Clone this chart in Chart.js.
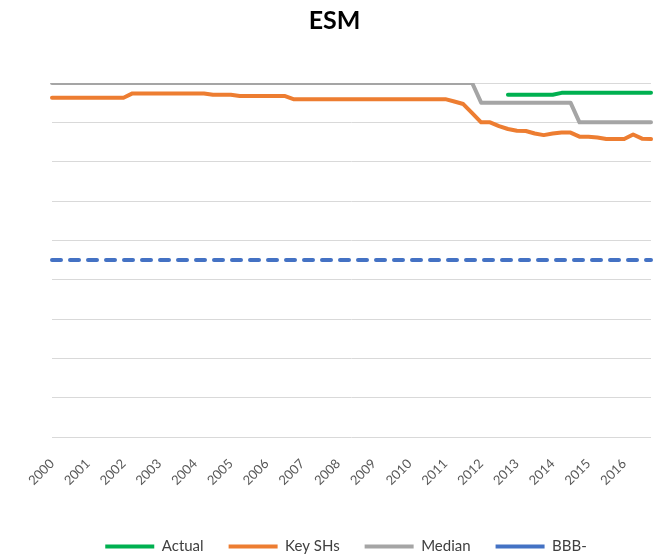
<!DOCTYPE html>
<html>
<head>
<meta charset="utf-8">
<script src="https://cdn.jsdelivr.net/npm/chart.js@4/dist/chart.umd.min.js"></script>
<style>
  html, body { margin: 0; padding: 0; background: #ffffff; }
  #wrap { width: 663px; height: 557px; position: relative; }
</style>
</head>
<body>
<div id="wrap"><canvas id="c" width="663" height="557"></canvas></div>
<script>
// Tick labels (years) and quarterly categories
const years = ["2000","2001","2002","2003","2004","2005","2006","2007","2008","2009","2010","2011","2012","2013","2014","2015","2016"];
const quarters = ["Q1","Q2","Q3","Q4"];
const categories = [];
years.forEach(y => quarters.forEach(q => categories.push(y + q)));

// Series values (rating-notch scale)
const actual = [
  null,null,null,null, null,null,null,null, null,null,null,null, null,null,null,null,
  null,null,null,null, null,null,null,null, null,null,null,null, null,null,null,null,
  null,null,null,null, null,null,null,null, null,null,null,null, null,null,null,null,
  null,null,null,17.4, 17.4,17.4,17.4,17.4, 17.4,17.5,17.5,17.5, 17.5,17.5,17.5,17.5,
  17.5,17.5,17.5,17.5
];
const keySHs = [
  17.25,17.25,17.25,17.25, 17.25,17.25,17.25,17.25, 17.25,17.47,17.47,17.47, 17.47,17.47,17.47,17.47,
  17.47,17.47,17.40,17.40, 17.40,17.34,17.34,17.34, 17.34,17.34,17.34,17.18, 17.18,17.18,17.18,17.18,
  17.18,17.18,17.18,17.18, 17.18,17.18,17.18,17.18, 17.18,17.18,17.18,17.18, 17.18,17.06,16.93,16.47,
  16.00,16.00,15.81,15.66, 15.57,15.56,15.43,15.35, 15.43,15.48,15.48,15.27, 15.27,15.23,15.15,15.15,
  15.15,15.38,15.17,15.15
];
const median = [
  18,18,18,18, 18,18,18,18, 18,18,18,18, 18,18,18,18,
  18,18,18,18, 18,18,18,18, 18,18,18,18, 18,18,18,18,
  18,18,18,18, 18,18,18,18, 18,18,18,18, 18,18,18,18,
  17,17,17,17, 17,17,17,17, 17,17,17,16, 16,16,16,16,
  16,16,16,16
];
const bbbMinus = categories.map(() => 9);

const FONT = "Lato, 'Open Sans', sans-serif";

// Center legend on plot area and nudge it down slightly (Excel-like placement)
const legendPlacement = {
  id: 'legendPlacement',
  afterLayout(chart) {
    const lg = chart.legend;
    if (!lg) return;
    lg.left = chart.chartArea.left;
    lg.right = chart.chartArea.right - 11;
    lg.top += 7;
    lg.bottom += 7;
  }
};

new Chart(document.getElementById('c'), {
  type: 'line',
  data: {
    labels: categories,
    datasets: [
      { label: 'Actual', data: actual, borderColor: '#00B050', backgroundColor: '#00B050',
        borderWidth: 4, pointRadius: 0, borderCapStyle: 'round', borderJoinStyle: 'round', tension: 0, spanGaps: false },
      { label: 'Key SHs', data: keySHs, borderColor: '#ED7D31', backgroundColor: '#ED7D31',
        borderWidth: 4, pointRadius: 0, borderCapStyle: 'round', borderJoinStyle: 'round', tension: 0 },
      { label: 'Median', data: median, borderColor: '#A5A5A5', backgroundColor: '#A5A5A5',
        borderWidth: 4, pointRadius: 0, borderCapStyle: 'round', borderJoinStyle: 'round', tension: 0 },
      { label: 'BBB-', data: bbbMinus, borderColor: '#4472C4', backgroundColor: '#4472C4',
        borderWidth: 4, pointRadius: 0, borderDash: [9, 9], borderCapStyle: 'round', tension: 0 }
    ]
  },
  options: {
    responsive: false,
    animation: false,
    layout: { padding: { left: 18, right: 12, top: 4, bottom: 0 } },
    plugins: {
      title: {
        display: true, text: 'ESM', color: '#000000',
        font: { family: FONT, size: 25, weight: 'bold' },
        padding: { top: 2, bottom: 47 }
      },
      legend: {
        position: 'bottom',
        labels: {
          usePointStyle: true, pointStyle: 'line', pointStyleWidth: 49,
          color: '#404040', font: { family: FONT, size: 15 }, padding: 25
        }
      },
      tooltip: { enabled: false }
    },
    scales: {
      x: {
        offset: false,
        grid: { display: false },
        border: { display: false },
        ticks: {
          autoSkip: false, maxRotation: 45, minRotation: 45, padding: 11,
          color: '#595959', font: { family: FONT, size: 13 },
          callback: function(v, i) { return i % 4 === 0 ? years[i / 4] : ''; }
        },
        afterFit: function(s) {
          const lh = (s.chart.legend && s.chart.legend.height) ? s.chart.legend.height : 0;
          s.height = s.chart.height - 437 - lh;
          s.paddingLeft = 0;
          s.paddingRight = 0;
        }
      },
      y: {
        min: 0, max: 18,
        ticks: { display: false, stepSize: 2 },
        grid: { color: '#D9D9D9', lineWidth: 1, drawTicks: false },
        border: { display: false },
        afterFit: function(s) { s.width = 34; }
      }
    }
  },
  plugins: [legendPlacement]
});
</script>
</body>
</html>
